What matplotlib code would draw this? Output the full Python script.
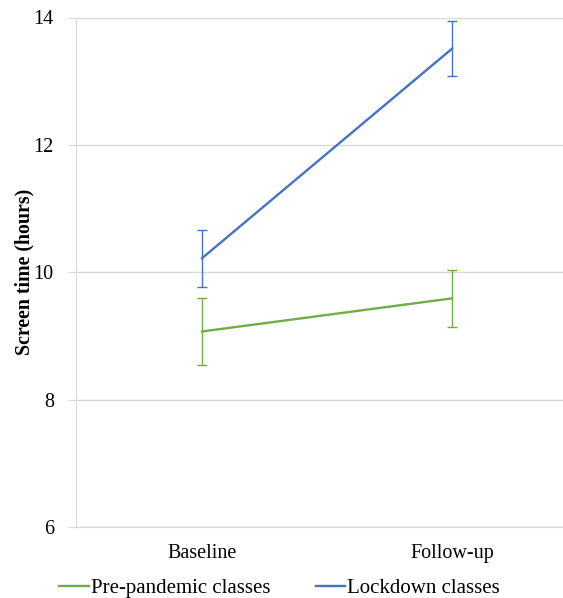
import matplotlib
matplotlib.use('Agg')
import matplotlib.pyplot as plt
from matplotlib.lines import Line2D

# data
timepoints = ['Baseline', 'Follow-up']
prepandemic_mean = [9.07, 9.59]
prepandemic_err = [0.52, 0.45]
lockdown_mean = [10.22, 13.51]
lockdown_err = [0.45, 0.43]
series_names = ['Pre-pandemic classes', 'Lockdown classes']
y_ticks = [6, 8, 10, 12, 14]

GREEN = '#70AD47'
BLUE = '#4472C4'
GRID = '#D9D9D9'

plt.rcParams['font.family'] = ['Liberation Serif', 'DejaVu Serif']

fig = plt.figure(figsize=(5.63, 5.98), dpi=100)
ax = fig.add_axes([76 / 563, 71 / 598, 1 - 76 / 563, (527 - 17.5) / 598])

x = list(range(len(timepoints)))
ax.errorbar(x, prepandemic_mean, yerr=prepandemic_err, color=GREEN, lw=1.7,
            elinewidth=1.0, capsize=3.5, capthick=1.0, zorder=3)
ax.errorbar(x, lockdown_mean, yerr=lockdown_err, color=BLUE, lw=1.7,
            elinewidth=1.0, capsize=3.5, capthick=1.0, zorder=3)

ax.set_xlim(-0.504, 1.444)
ax.set_ylim(6, 14)
ax.set_yticks(y_ticks)
ax.set_xticks(x)
ax.set_xticklabels(timepoints)

ax.grid(axis='y', color=GRID, lw=1.0)
ax.set_axisbelow(True)
for side in ['top', 'right']:
    ax.spines[side].set_visible(False)
ax.spines['left'].set_color(GRID)
ax.spines['bottom'].set_color(GRID)
ax.tick_params(axis='y', length=6, color=GRID, labelsize=14.5, pad=10)
ax.tick_params(axis='x', length=0, labelsize=14.5, pad=12)

ax.set_ylabel('Screen time (hours)', fontsize=14.3, fontweight='bold')
ax.yaxis.set_label_coords(-42 / 487, 0.5)

handles = [Line2D([], [], color=GREEN, lw=1.7), Line2D([], [], color=BLUE, lw=1.7)]
ax.legend(handles, series_names, loc='upper left', bbox_to_anchor=(-0.051, -0.085),
          ncol=2, frameon=False, fontsize=15, handlelength=1.4,
          handletextpad=0.1, columnspacing=2.2, borderaxespad=0)

fig.savefig('out.png', dpi=100)
